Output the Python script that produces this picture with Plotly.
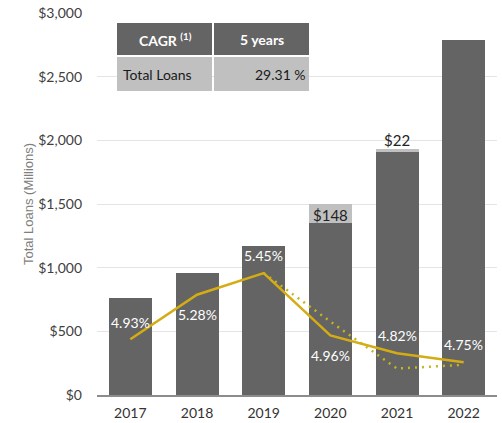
import plotly.graph_objects as go

# Loan balances by year ($ millions) and yield series (%)
years = ["2017", "2018", "2019", "2020", "2021", "2022"]
core_loans = [764, 956, 1173, 1349, 1911, 2785]
ppp_loans = [0, 0, 0, 148, 22, 0]
ppp_labels = ["", "", "", "$148", "$22", ""]
loan_yield = [4.93, 5.28, 5.45, 4.96, 4.82, 4.75]
yield_labels = ["4.93%", "5.28%", "5.45%", "4.96%", "4.82%", "4.75%"]
yield_label_shift = [17, -20, 18, -20, 18, 18]
adj_years = ["2019", "2020", "2021", "2022"]
adj_yield = [5.45, 5.07, 4.70, 4.73]

# CAGR summary table
table_header = ["<b>CAGR <sup>(1)</sup></b>", "<b>5 years</b>"]
table_row = ["Total Loans", "29.31 %"]

FONT = "Lato"
DARK = "#646464"
LIGHT = "#c0c0c0"
GOLD = "#d4ac14"
OLIVE = "#c8b41c"

fig = go.Figure()
fig.add_bar(x=years, y=core_loans, marker_color=DARK, marker_line_width=0,
            hoverinfo="skip")
fig.add_bar(x=years, y=ppp_loans, marker_color=LIGHT, marker_line_width=0,
            hoverinfo="skip")
fig.add_scatter(x=adj_years, y=adj_yield, yaxis="y2", mode="lines",
                line=dict(color=OLIVE, width=2.5, dash="2px,5px"),
                hoverinfo="skip")
fig.add_scatter(x=years, y=loan_yield, yaxis="y2", mode="lines",
                line=dict(color=GOLD, width=2.5), hoverinfo="skip")

annotations = []
# yield labels in white on the bars (category axes take serial positions)
for i, (v, t, s) in enumerate(zip(loan_yield, yield_labels, yield_label_shift)):
    annotations.append(dict(x=i, y=v, xref="x", yref="y2", text=t, showarrow=False,
                            xanchor="center", yanchor="middle", yshift=s,
                            font=dict(family=FONT, size=14, color="white")))
# PPP segment labels
for i, (base, add, t) in enumerate(zip(core_loans, ppp_loans, ppp_labels)):
    if not t:
        continue
    if add > 60:
        annotations.append(dict(x=i, y=base + add / 2, xref="x", yref="y", text=t,
                                showarrow=False, xanchor="center", yanchor="middle",
                                yshift=-1,
                                font=dict(family=FONT, size=15, color="#222222")))
    else:
        annotations.append(dict(x=i, y=base + add, xref="x", yref="y", text=t,
                                showarrow=False, xanchor="center", yanchor="bottom",
                                yshift=-2,
                                font=dict(family=FONT, size=15, color="#222222")))

# axis title
annotations.append(dict(xref="paper", yref="paper", x=0, y=0.5, xshift=-69,
                        xanchor="center", yanchor="middle",
                        text="Total Loans (Millions)", textangle=-90,
                        showarrow=False,
                        font=dict(family="Liberation Sans", size=13, color="#7f7f7f")))

# table cells, placed in plot-area fractions
def frac(xp, yp):
    return (xp - 97) / 400, (395 - yp) / 382

shapes = []
cells = [
    (117, 23, 212, 55, DARK), (214, 23, 309, 55, DARK),
    (117, 57, 212, 91, LIGHT), (214, 57, 309, 91, LIGHT),
]
for x0, y0, x1, y1, c in cells:
    a0, b0 = frac(x0, y1)
    a1, b1 = frac(x1, y0)
    shapes.append(dict(type="rect", xref="paper", yref="paper", x0=a0, x1=a1,
                       y0=b0, y1=b1, fillcolor=c, line_width=0, layer="above"))

hx = [frac(165, 39), frac(261.5, 39)]
for (xp, yp), t in zip(hx, table_header):
    annotations.append(dict(xref="paper", yref="paper", x=xp, y=yp, text=t,
                            showarrow=False, xanchor="center", yanchor="middle",
                            font=dict(family=FONT, size=14, color="white")))
xa, ya = frac(121, 74)
annotations.append(dict(xref="paper", yref="paper", x=xa, y=ya, xanchor="left",
                        yanchor="middle", text=table_row[0], showarrow=False,
                        font=dict(family=FONT, size=14, color="#1a1a1a")))
xb, yb = frac(308, 74)
annotations.append(dict(xref="paper", yref="paper", x=xb, y=yb, xanchor="right",
                        yanchor="middle", text=table_row[1], showarrow=False,
                        font=dict(family=FONT, size=14, color="#1a1a1a")))

fig.update_layout(
    width=502, height=423,
    margin=dict(l=97, r=5, t=13, b=28),
    paper_bgcolor="white", plot_bgcolor="white",
    barmode="stack", bargap=0.355,
    showlegend=False,
    font=dict(family=FONT, size=14, color="#404040"),
    xaxis=dict(type="category", range=[-0.5, 5.5], showline=True,
               linecolor="#8c8c8c", linewidth=1.5, automargin=False,
               showgrid=False, ticks="", ticklabelstandoff=4,
               tickfont=dict(size=14, color="#333333")),
    yaxis=dict(range=[0, 3000], dtick=500, tickprefix="$", tickformat=",",
               showgrid=True, gridcolor="#e4e4e4", gridwidth=1, zeroline=False,
               ticks="", ticklabelstandoff=14, automargin=False,
               tickfont=dict(size=14, color="#404040")),
    yaxis2=dict(range=[4.4926, 7.4926], overlaying="y", visible=False),
    annotations=annotations,
    shapes=shapes,
)

fig.write_html("out.html")
